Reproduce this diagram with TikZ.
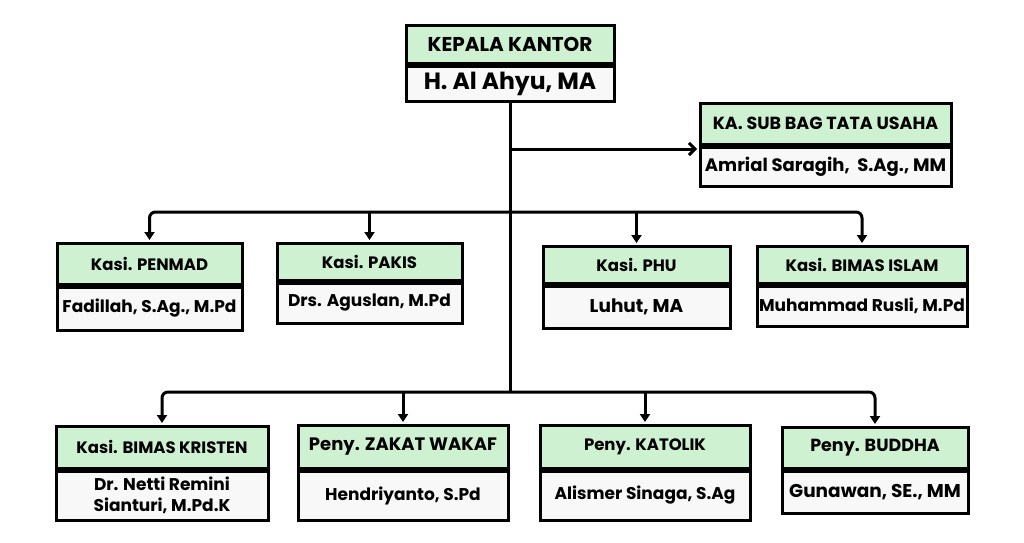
\documentclass[tikz,border=0pt]{standalone}
\usepackage{fontspec}
\setmainfont{Poppins}
\usetikzlibrary{arrows.meta,positioning}
\definecolor{headgreen}{HTML}{CEF2D1}
\definecolor{namewhite}{HTML}{F8F8F8}

\begin{document}
\begin{tikzpicture}[
x=1pt,y=-1pt,
head/.style={draw,line width=3pt,fill=headgreen,align=center,inner xsep=2pt,inner ysep=0pt,font=\bfseries\fontsize{16.5}{19}\selectfont},
person/.style={draw,line width=3pt,fill=namewhite,align=center,inner xsep=2pt,inner ysep=0pt,font=\bfseries\fontsize{17}{21}\selectfont},
arrow/.style={-{Triangle[length=8pt,width=10pt]},line width=3pt,shorten >=1.5pt},
line/.style={line width=3pt}
]
\useasboundingbox (0,0) rectangle (1024,542);

% kepala kantor and tata usaha
\node[head,minimum width=208pt,minimum height=38pt,font=\bfseries\fontsize{20}{23}\selectfont] (kepala-h) at (510,44) {KEPALA KANTOR};
\node[person,minimum width=208pt,minimum height=35pt,below=0pt of kepala-h,font=\bfseries\fontsize{23.5}{26}\selectfont] (kepala-n) {H. Al Ahyu, MA};
\node[head,minimum width=251pt,minimum height=41pt,font=\bfseries\fontsize{17.5}{20}\selectfont] (subbag-h) at (825.5,123.5) {KA. SUB BAG TATA USAHA};
\node[person,minimum width=251pt,minimum height=39pt,below=0pt of subbag-h,font=\bfseries\fontsize{18}{21}\selectfont] (subbag-n) {Amrial Saragih,\ \ S.Ag., MM};

% first row
\node[head,minimum width=185pt,minimum height=41pt] (penmad-h) at (149.5,263.5) {Kasi. PENMAD};
\node[person,minimum width=185pt,minimum height=43pt,below=0pt of penmad-h] (penmad-n) {Fadillah, S.Ag., M.Pd};
\node[head,minimum width=185pt,minimum height=37pt] (pakis-h) at (369.5,261.5) {Kasi. PAKIS};
\node[person,minimum width=185pt,minimum height=40pt,below=0pt of pakis-h] (pakis-n) {Drs. Aguslan, M.Pd};
\node[head,minimum width=187pt,minimum height=37pt] (phu-h) at (636.5,264.5) {Kasi. PHU};
\node[person,minimum width=187pt,minimum height=42pt,below=0pt of phu-h,font=\bfseries\fontsize{18.5}{21}\selectfont] (phu-n) {Luhut, MA};
\node[head,minimum width=210pt,minimum height=37pt] (islam-h) at (862,264.5) {Kasi. BIMAS ISLAM};
\node[person,minimum width=210pt,minimum height=40pt,below=0pt of islam-h] (islam-n) {Muhammad Rusli, M.Pd};

% second row
\node[head,minimum width=212pt,minimum height=42pt] (kristen-h) at (162,447) {Kasi. BIMAS KRISTEN};
\node[person,minimum width=212pt,minimum height=49pt,below=0pt of kristen-h] (kristen-n) {Dr. Netti Remini\\Sianturi, M.Pd.K};
\node[head,minimum width=210pt,minimum height=43pt,font=\bfseries\fontsize{18}{21}\selectfont] (zakat-h) at (403,446.5) {Peny. ZAKAT WAKAF};
\node[person,minimum width=210pt,minimum height=49pt,below=0pt of zakat-h] (zakat-n) {Hendriyanto, S.Pd};
\node[head,minimum width=210pt,minimum height=43pt] (katolik-h) at (645,446.5) {Peny. KATOLIK};
\node[person,minimum width=210pt,minimum height=49pt,below=0pt of katolik-h] (katolik-n) {Alismer Sinaga, S.Ag};
\node[head,minimum width=186pt,minimum height=41pt,font=\bfseries\fontsize{17.5}{20}\selectfont] (buddha-h) at (875,447.5) {Peny. BUDDHA};
\node[person,minimum width=186pt,minimum height=42pt,below=0pt of buddha-h,font=\bfseries\fontsize{18.5}{21}\selectfont] (buddha-n) {Gunawan, SE., MM};

% connectors
\coordinate (tu) at (510,149);
\coordinate (row1) at (510,212);
\coordinate (row2) at (510,392);
\draw[line] (kepala-n.south) -- (row2);
\draw[line,-{Straight Barb[length=6pt,width=12pt]},shorten >=1.5pt] (tu) -- (tu -| subbag-h.west);
\draw[arrow,rounded corners=6pt] (row1) -| (penmad-h.north);
\draw[arrow] (row1 -| pakis-h.north) -- (pakis-h.north);
\draw[arrow] (row1 -| phu-h.north) -- (phu-h.north);
\draw[arrow,rounded corners=6pt] (row1) -| (islam-h.north);
\draw[arrow,rounded corners=6pt] (row2) -| (kristen-h.north);
\draw[arrow] (row2 -| zakat-h.north) -- (zakat-h.north);
\draw[arrow] (row2 -| katolik-h.north) -- (katolik-h.north);
\draw[arrow,rounded corners=6pt] (row2) -| (buddha-h.north);
\end{tikzpicture}
\end{document}
